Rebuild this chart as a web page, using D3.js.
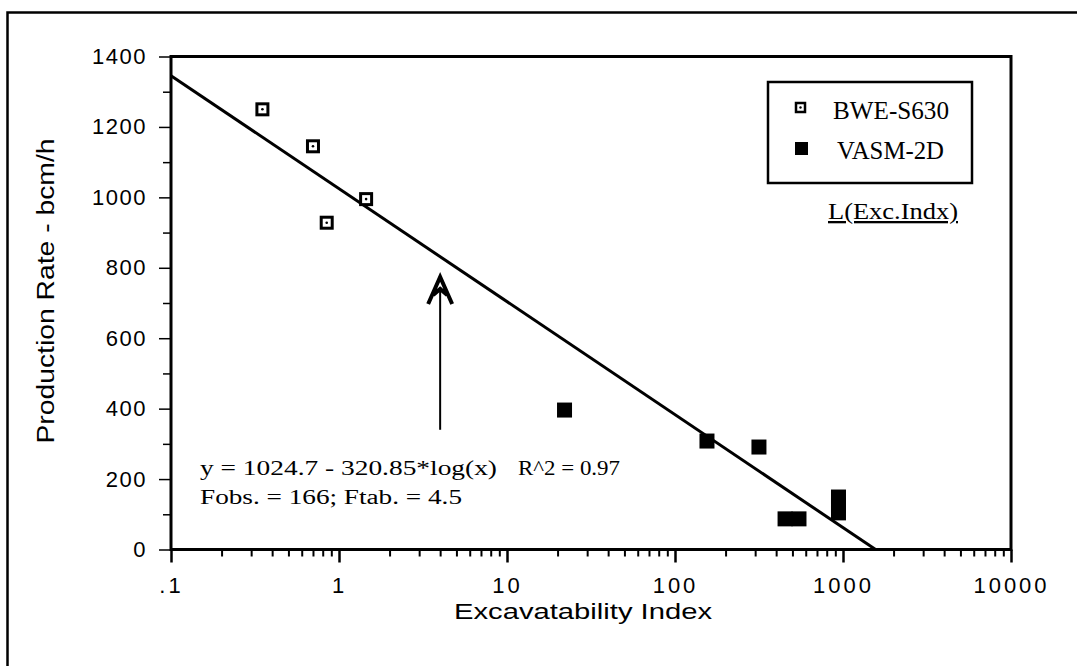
<!DOCTYPE html>
<html lang="en">
<head>
    <meta charset="UTF-8">
    <title>Production Rate vs Excavatability Index</title>
    <style>
        body { margin: 0; background: #fff; }
        svg { display: block; }
    </style>
</head>
<body>
    <svg id="chart"></svg>

    <script src="https://d3js.org/d3.v7.min.js"></script>

    <script>
// data
const bweX = [0.35, 0.70, 1.45, 0.845];
const bweY = [1250, 1145, 995, 928];
const vasmX = [22, 155, 316, 452, 547, 940, 940, 940];
const vasmY = [396, 308, 291, 87, 87, 149, 126, 104];

// fitted line y = a - b*log(x)
const fitA = 1024.7;
const fitB = 320.85;
const fitX = [0.1, 1563];

const xTicks = [0.1, 1, 10, 100, 1000, 10000];
const xTickLabels = [".1", "1", "10", "100", "1000", "10000"];
const yTicks = [0, 200, 400, 600, 800, 1000, 1200, 1400];
const yTickLabels = ["0", "200", "400", "600", "800", "1000", "1200", "1400"];

const seriesNames = ["BWE-S630", "VASM-2D"];

const width = 1077, height = 666;
const margin = { left: 171, right: 66, top: 56.5, bottom: 116.5 };

const svg = d3.select("#chart")
    .attr("width", width)
    .attr("height", height);

// outer frame (runs off right and bottom edges)
svg.append("rect")
    .attr("x", 7.5).attr("y", 12.5)
    .attr("width", width).attr("height", height)
    .attr("fill", "none")
    .attr("stroke", "#000")
    .attr("stroke-width", 2.5);

const x = d3.scaleLog()
    .domain([0.1, 10000])
    .range([margin.left, width - margin.right]);

const y = d3.scaleLinear()
    .domain([0, 1400])
    .range([height - margin.bottom, margin.top]);

const sans = "'Liberation Sans', Arial, sans-serif";
const serif = "'Liberation Serif', 'Times New Roman', serif";

// minor x ticks
const xMinor = [];
xTicks.slice(0, -1).forEach(d => {
    for (let k = 2; k <= 9; k++) xMinor.push(d * k);
});

svg.append("g")
    .attr("transform", `translate(0,${y(0)})`)
    .call(d3.axisBottom(x).tickValues(xMinor).tickSize(7).tickFormat(""))
    .call(g => g.select(".domain").remove())
    .call(g => g.selectAll("line").attr("stroke-width", 2));

svg.append("g")
    .attr("transform", `translate(0,${y(0)})`)
    .call(d3.axisBottom(x).tickValues(xTicks).tickSize(13).tickPadding(15)
        .tickFormat((d, i) => xTickLabels[i]))
    .call(g => g.select(".domain").remove())
    .call(g => g.selectAll("line").attr("stroke-width", 2.5))
    .call(g => g.selectAll("text")
        .attr("font-family", sans)
        .attr("font-size", 22)
        .attr("letter-spacing", 3)
        .attr("fill", "#000"));

// minor y ticks
const yMinor = d3.range(100, 1400, 200);
svg.append("g")
    .attr("transform", `translate(${x(0.1)},0)`)
    .call(d3.axisLeft(y).tickValues(yMinor).tickSize(8).tickFormat(""))
    .call(g => g.select(".domain").remove())
    .call(g => g.selectAll("line").attr("stroke-width", 1.5));

svg.append("g")
    .attr("transform", `translate(${x(0.1)},0)`)
    .call(d3.axisLeft(y).tickValues(yTicks).tickSize(12).tickPadding(12)
        .tickFormat((d, i) => yTickLabels[i]))
    .call(g => g.select(".domain").remove())
    .call(g => g.selectAll("line").attr("stroke-width", 1.5))
    .call(g => g.selectAll("text")
        .attr("font-family", sans)
        .attr("font-size", 22)
        .attr("letter-spacing", 1.5)
        .attr("fill", "#000"));

// plot box
svg.append("rect")
    .attr("x", x(0.1)).attr("y", y(1400))
    .attr("width", x(10000) - x(0.1))
    .attr("height", y(0) - y(1400))
    .attr("fill", "none")
    .attr("stroke", "#000")
    .attr("stroke-width", 3);

// axis titles
svg.append("text")
    .attr("x", 454)
    .attr("y", 619)
    .attr("font-family", sans)
    .attr("font-size", 22)
    .attr("textLength", 258)
    .attr("lengthAdjust", "spacingAndGlyphs")
    .text("Excavatability Index");

svg.append("text")
    .attr("transform", `translate(54,${(y(0) + y(1400)) / 2 - 12}) rotate(-90)`)
    .attr("text-anchor", "middle")
    .attr("font-family", sans)
    .attr("font-size", 23)
    .attr("textLength", 305)
    .attr("lengthAdjust", "spacingAndGlyphs")
    .text("Production Rate  -  bcm/h");

// regression line
const fitLine = d3.line()
    .x(d => x(d))
    .y(d => y(fitA - fitB * Math.log10(d)));

svg.append("path")
    .datum(fitX)
    .attr("d", fitLine)
    .attr("fill", "none")
    .attr("stroke", "#000")
    .attr("stroke-width", 3);

// open squares
const bwe = svg.append("g");
bwe.selectAll("rect")
    .data(d3.zip(bweX, bweY))
    .join("rect")
    .attr("x", d => x(d[0]) - 5.5)
    .attr("y", d => y(d[1]) - 5.5)
    .attr("width", 11).attr("height", 11)
    .attr("fill", "#fff")
    .attr("stroke", "#000")
    .attr("stroke-width", 3);
bwe.selectAll("circle")
    .data(d3.zip(bweX, bweY))
    .join("circle")
    .attr("cx", d => x(d[0]))
    .attr("cy", d => y(d[1]))
    .attr("r", 1.3)
    .attr("fill", "#000");

// filled squares
svg.append("g").selectAll("rect")
    .data(d3.zip(vasmX, vasmY))
    .join("rect")
    .attr("x", d => x(d[0]) - 7.5)
    .attr("y", d => y(d[1]) - 7.5)
    .attr("width", 15).attr("height", 15)
    .attr("fill", "#000");

// arrow pointing at the fit
const arrowX = 4;
const arrowY = [340, 745, 774];
svg.append("line")
    .attr("x1", x(arrowX)).attr("x2", x(arrowX))
    .attr("y1", y(arrowY[0])).attr("y2", y(arrowY[1]))
    .attr("stroke", "#000")
    .attr("stroke-width", 2);
const ax = x(arrowX), tip = y(arrowY[2]);
svg.append("path")
    .attr("d", `M${ax - 12},${tip + 27} L${ax},${tip} L${ax + 12},${tip + 27} M${ax - 7},${tip + 18} L${ax},${tip + 12} L${ax + 7},${tip + 18}`)
    .attr("fill", "none")
    .attr("stroke", "#000")
    .attr("stroke-width", 4)
    .attr("stroke-linejoin", "miter");

// equation text
const eq = svg.append("g")
    .attr("font-family", serif)
    .attr("font-size", 20.5)
    .attr("fill", "#000");
eq.append("text")
    .attr("x", 200).attr("y", 475)
    .attr("textLength", 297).attr("lengthAdjust", "spacingAndGlyphs")
    .text("y = 1024.7 - 320.85*log(x)");
eq.append("text")
    .attr("x", 518).attr("y", 475)
    .attr("textLength", 102).attr("lengthAdjust", "spacingAndGlyphs")
    .text("R^2 = 0.97");
eq.append("text")
    .attr("x", 200).attr("y", 504)
    .attr("textLength", 262).attr("lengthAdjust", "spacingAndGlyphs")
    .text("Fobs. = 166; Ftab. = 4.5");

// legend
const legend = svg.append("g");
legend.append("rect")
    .attr("x", 768).attr("y", 82)
    .attr("width", 204).attr("height", 101)
    .attr("fill", "#fff")
    .attr("stroke", "#000")
    .attr("stroke-width", 2.5);
legend.append("rect")
    .attr("x", 796).attr("y", 103)
    .attr("width", 9).attr("height", 9)
    .attr("fill", "#fff")
    .attr("stroke", "#000")
    .attr("stroke-width", 2.5);
legend.append("circle")
    .attr("cx", 800.5).attr("cy", 107.5).attr("r", 1.2)
    .attr("fill", "#000");
legend.append("rect")
    .attr("x", 795).attr("y", 142)
    .attr("width", 13).attr("height", 13)
    .attr("fill", "#000");
legend.selectAll("text.series")
    .data(seriesNames)
    .join("text")
    .attr("class", "series")
    .attr("x", (d, i) => i === 0 ? 833 : 837)
    .attr("y", (d, i) => 119 + i * 40)
    .attr("font-family", serif)
    .attr("font-size", 25)
    .attr("textLength", (d, i) => i === 0 ? 116 : 107)
    .attr("lengthAdjust", "spacingAndGlyphs")
    .text(d => d);

svg.append("text")
    .attr("x", 828).attr("y", 219)
    .attr("font-family", serif)
    .attr("font-size", 23)
    .attr("text-decoration", "underline")
    .attr("textLength", 130)
    .attr("lengthAdjust", "spacingAndGlyphs")
    .text("L(Exc.Indx)");
    </script>
</body>
</html>
